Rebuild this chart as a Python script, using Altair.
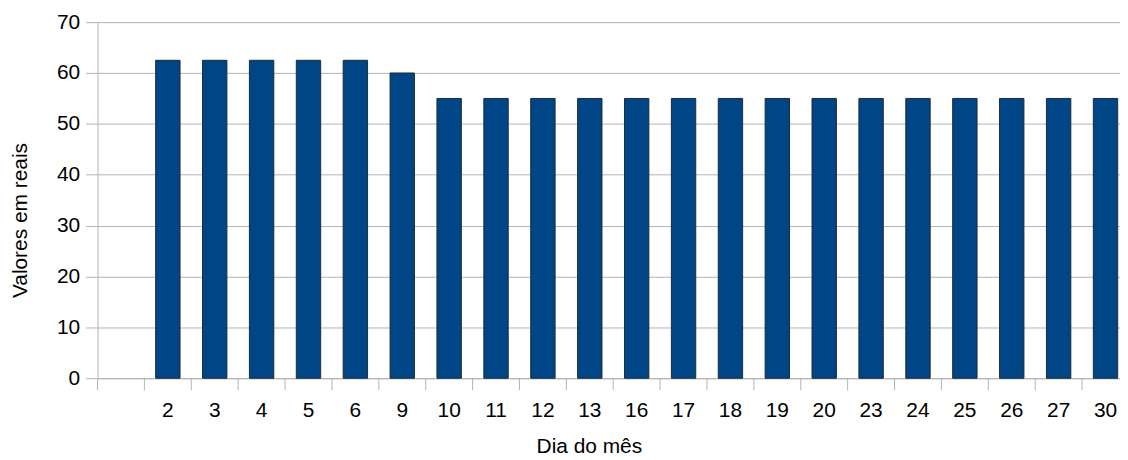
import altair as alt
import pandas as pd

days = ["", "2", "3", "4", "5", "6", "9", "10", "11", "12", "13", "16", "17",
        "18", "19", "20", "23", "24", "25", "26", "27", "30"]
values = [None, 62.5, 62.5, 62.5, 62.5, 62.5, 60,
          55, 55, 55, 55, 55, 55, 55, 55, 55, 55, 55, 55, 55, 55, 55]
y_ticks = [0, 10, 20, 30, 40, 50, 60, 70]

df = pd.DataFrame({"dia": days, "valor": values})

FONT = "Liberation Sans"
GRID = "#b3b3b3"
PI = 0.48
W = 1037
STEP = W / len(days)

xscale = alt.Scale(domain=days, paddingInner=PI, paddingOuter=PI / 2)

bars = alt.Chart(df).mark_bar(
    color="#004586", stroke="#1c2a38", strokeWidth=1
).encode(
    x=alt.X("dia:N", scale=xscale, sort=None,
            axis=alt.Axis(title="Dia do mês", labelAngle=0, ticks=False, tickSize=0,
                          labelPadding=21, labelFontSize=21, labelFont=FONT,
                          labelColor="#000000", domainColor=GRID, domainWidth=1,
                          titleFont=FONT, titleFontSize=21, titleFontWeight="normal",
                          titleColor="#000000", titleY=69, titleX=494,
                          titleAlign="center", titleBaseline="middle",
                          grid=False)),
    y=alt.Y("valor:Q", scale=alt.Scale(domain=[0, 70], nice=False),
            axis=alt.Axis(title="Valores em reais", values=y_ticks, tickSize=12,
                          tickColor=GRID, labelPadding=6, labelFontSize=21,
                          labelFont=FONT, labelColor="#000000", domainColor=GRID,
                          grid=True, gridColor=GRID, gridWidth=1,
                          titleFont=FONT, titleFontSize=21, titleFontWeight="normal",
                          titleColor="#000000", titleAngle=270, titleBaseline="middle",
                          titleX=-77, titleY=199, titleAlign="center")),
)

xticks = alt.Chart(df).mark_rule(
    color=GRID, strokeWidth=1, xOffset=-(PI / 2) * STEP
).encode(
    x=alt.X("dia:N", scale=xscale, sort=None, bandPosition=0),
    y=alt.value(358),
    y2=alt.value(370),
)

chart = alt.layer(bars, xticks).properties(
    width=W, height=358,
    autosize=alt.AutoSizeParams(type="none"),
    padding={"left": 90, "top": 13, "right": -9, "bottom": 82},
    background="white",
).configure_view(stroke=None)

chart.save("out.html", embed_options={"renderer": "svg", "actions": False})
